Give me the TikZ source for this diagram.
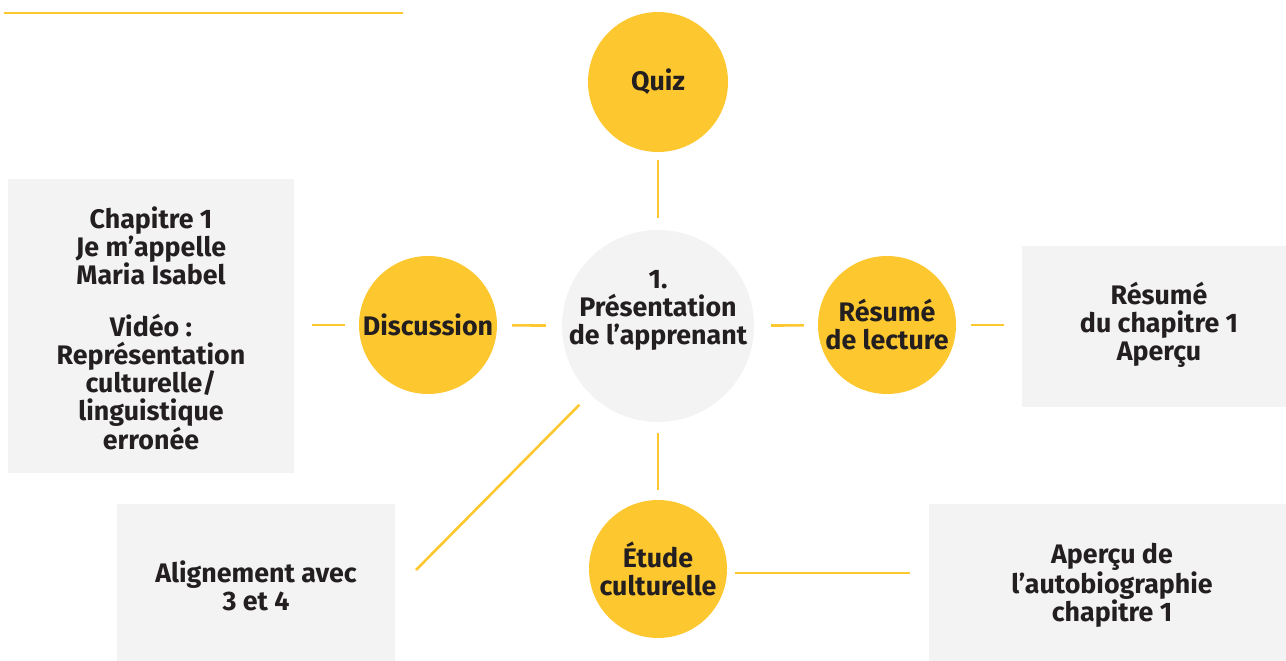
\documentclass[tikz,border=0pt]{standalone}
\usepackage{fontspec}
\setmainfont{Fira Sans}
\definecolor{yel}{HTML}{FDC72F}
\definecolor{boxg}{HTML}{F3F3F3}
\definecolor{ink}{HTML}{231F20}
\begin{document}
\begin{tikzpicture}[x=1pt,y=1pt,
  lbl/.style={font=\bfseries\fontsize{26.8}{28}\selectfont, text=ink, align=center, inner sep=0pt},
  ycirc/.style={circle, fill=yel, minimum size=138pt, inner sep=0pt, lbl},
  gbox/.style={fill=boxg, inner sep=0pt, lbl},
  conn/.style={draw=yel, line width=2.6pt}
]
\useasboundingbox (0,0) rectangle (1286,-661);
\draw[conn, line width=2.4pt] (4,-13) -- (403,-13);

% boxes
\node[gbox, minimum width=286pt, minimum height=294pt] (bleft) at (151,-326) {};
\node[lbl] (tleft) at (151,-328.5) {Chapitre 1\\Je m’appelle\\Maria Isabel\\[24pt]Vidéo :\\Représentation\\culturelle/\\linguistique\\erronée};
\node[gbox, minimum width=264pt, minimum height=161pt] (bres) at (1154,-326.5) {};
\node[lbl] (tres) at (1159,-325) {Résumé\\du chapitre 1\\Aperçu};
\node[gbox, minimum width=278pt, minimum height=157pt] (balign) at (256,-582.5) {};
\node[lbl] (talign) at (256,-586) {Alignement avec\\3 et 4};
\node[gbox, minimum width=357pt, minimum height=157pt] (bauto) at (1107.5,-582.5) {};
\node[lbl] (tauto) at (1112,-585) {Aperçu de\\l’autobiographie\\chapitre 1};

% circles
\node[circle, fill=boxg, minimum size=192pt, inner sep=0pt] (center) at (658,-326) {};
\node[lbl] (tcenter) at (658,-310) {1.\\Présentation\\de l’apprenant};
\node[ycirc, minimum size=140pt] (quiz) at (658,-82) {Quiz};
\node[ycirc] (disc) at (428,-325) {Discussion};
\node[ycirc] (resume) at (887,-325) {Résumé\\de lecture};
\node[ycirc] (etude) at (658,-569) {Étude\\culturelle};

\coordinate (diagend) at (416,-570);

% connectors
\draw[conn, shorten <=8pt, shorten >=12pt] (quiz) -- (center);
\draw[conn, shorten <=11pt, shorten >=10pt] (center) -- (etude);
\draw[conn, shorten <=15pt, shorten >=16pt] (disc) -- (center);
\draw[conn, shorten <=18pt, shorten >=14pt] (bleft.east |- disc) -- (disc);
\draw[conn, shorten <=17pt, shorten >=14pt] (center) -- (resume);
\draw[conn, shorten <=15pt, shorten >=18pt] (resume) -- (bres.west |- resume);
\draw[conn, shorten <=8pt, shorten >=19pt] (etude.east |- 0,-573) -- (bauto.west |- 0,-573);
\draw[conn, shorten <=15pt] (center.225) -- (diagend);
\end{tikzpicture}
\end{document}
